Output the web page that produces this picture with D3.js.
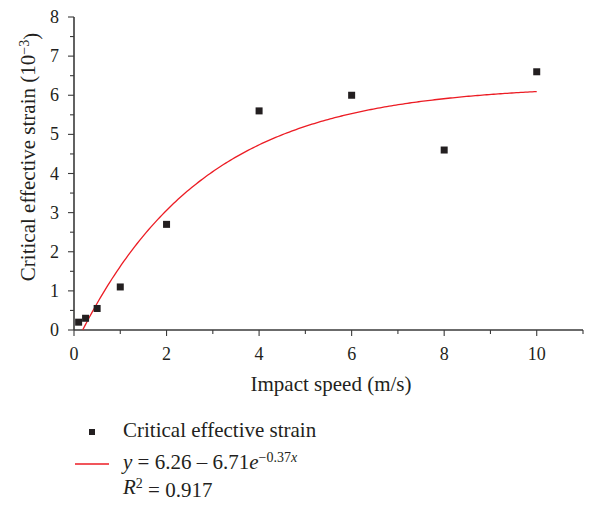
<!DOCTYPE html>
<html>
<head>
<meta charset="utf-8">
<script src="https://cdn.jsdelivr.net/npm/d3@7"></script>
<style>
  html, body { margin: 0; padding: 0; background: #fff; }
  svg text { font-family: "Liberation Serif", "DejaVu Serif", serif; fill: #231f20; }
</style>
</head>
<body>
<svg id="chart" width="592" height="505"></svg>
<script>
// Measured impact speeds (m/s) and critical effective strain (×10⁻³)
const speeds  = [0.1, 0.25, 0.5, 1, 2, 4, 6, 8, 10];
const strains = [0.2, 0.3, 0.55, 1.1, 2.7, 5.6, 6.0, 4.6, 6.6];

// Exponential fit y = a − b·e^(c·x)
const fitA = 6.26, fitB = 6.71, fitC = -0.37;
const fitStart = Math.log(fitB / fitA) / -fitC;   // where the fit crosses y = 0
const fitEnd = 10;

const xTicks = [0, 2, 4, 6, 8, 10];
const yTicks = [0, 1, 2, 3, 4, 5, 6, 7, 8];

const svg = d3.select("#chart");
const axisColor = "#3a3a3a";
const curveColor = "#ec1c24";

const x = d3.scaleLinear().domain([0, 11]).range([74, 583]);
const y = d3.scaleLinear().domain([0, 8]).range([330, 17]);

// y axis: major ticks outside, minor half-ticks
const yAxis = svg.append("g").attr("transform", `translate(${x(0)},0)`);
yAxis.append("line").attr("x1", 0).attr("x2", 0).attr("y1", y(0)).attr("y2", y(8))
  .attr("stroke", axisColor).attr("stroke-width", 1.6);
d3.range(0, 8.01, 0.5).forEach(v => {
  const major = Math.abs(v - Math.round(v)) < 1e-9;
  yAxis.append("line").attr("x1", major ? -6 : -4).attr("x2", 0)
    .attr("y1", y(v)).attr("y2", y(v)).attr("stroke", axisColor).attr("stroke-width", 1.1);
});
yAxis.selectAll("text.tick").data(yTicks).join("text")
  .attr("class", "tick")
  .attr("x", -15).attr("y", d => y(d)).attr("dy", "0.34em")
  .attr("text-anchor", "end").attr("font-size", 18)
  .text(d => d);

// x axis
const xAxis = svg.append("g").attr("transform", `translate(0,${y(0)})`);
xAxis.append("line").attr("x1", x(0)).attr("x2", x(11)).attr("y1", 0).attr("y2", 0)
  .attr("stroke", axisColor).attr("stroke-width", 1.6);
d3.range(0, 11.01, 1).forEach(v => {
  const major = v % 2 === 0;
  xAxis.append("line").attr("x1", x(v)).attr("x2", x(v))
    .attr("y1", 0).attr("y2", major ? 6 : 4).attr("stroke", axisColor).attr("stroke-width", 1.1);
});
xAxis.selectAll("text.tick").data(xTicks).join("text")
  .attr("class", "tick")
  .attr("x", d => x(d)).attr("y", 30)
  .attr("text-anchor", "middle").attr("font-size", 18)
  .text(d => d);

// axis titles
svg.append("text")
  .attr("x", 331).attr("y", 391)
  .attr("text-anchor", "middle").attr("font-size", 21)
  .text("Impact speed (m/s)");

const yTitle = svg.append("text")
  .attr("transform", "translate(35,157) rotate(-90)")
  .attr("text-anchor", "middle").attr("font-size", 21);
yTitle.append("tspan").text("Critical effective strain (10");
yTitle.append("tspan").attr("dy", "-0.45em").attr("font-size", 14).text("−3");
yTitle.append("tspan").attr("dy", "0.45em").text(")");

// fitted curve
const fitPts = d3.range(0, 201).map(i => {
  const xv = fitStart + (fitEnd - fitStart) * i / 200;
  return [xv, fitA - fitB * Math.exp(fitC * xv)];
});
svg.append("path")
  .datum(fitPts)
  .attr("fill", "none").attr("stroke", curveColor).attr("stroke-width", 1.3)
  .attr("d", d3.line().x(d => x(d[0])).y(d => y(d[1])));

// data points
const pts = speeds.map((s, i) => ({ s, v: strains[i] }));
svg.selectAll("rect.pt").data(pts).join("rect")
  .attr("class", "pt")
  .attr("x", d => x(d.s) - 3.5).attr("y", d => y(d.v) - 3.5)
  .attr("width", 7).attr("height", 7)
  .attr("fill", "#231f20");

// legend
const leg = svg.append("g");
leg.append("rect").attr("x", 89).attr("y", 429).attr("width", 6).attr("height", 6).attr("fill", "#231f20");
leg.append("text").attr("x", 123).attr("y", 437).attr("font-size", 21).text("Critical effective strain");
leg.append("line").attr("x1", 75).attr("x2", 109).attr("y1", 464).attr("y2", 464)
  .attr("stroke", curveColor).attr("stroke-width", 1.3);

const eq = leg.append("text").attr("x", 123).attr("y", 469).attr("font-size", 21);
eq.append("tspan").attr("font-style", "italic").text("y");
eq.append("tspan").text(` = ${fitA} – ${fitB}`);
eq.append("tspan").attr("font-style", "italic").text("e");
eq.append("tspan").attr("dy", "-0.5em").attr("font-size", 14).text(`−${Math.abs(fitC)}`);
eq.append("tspan").attr("font-size", 14).attr("font-style", "italic").text("x");

const r2 = leg.append("text").attr("x", 123).attr("y", 494).attr("font-size", 21);
r2.append("tspan").attr("font-style", "italic").text("R");
r2.append("tspan").attr("dy", "-0.45em").attr("font-size", 14).text("2");
r2.append("tspan").attr("dy", "0.45em").text(" = 0.917");
</script>
</body>
</html>
